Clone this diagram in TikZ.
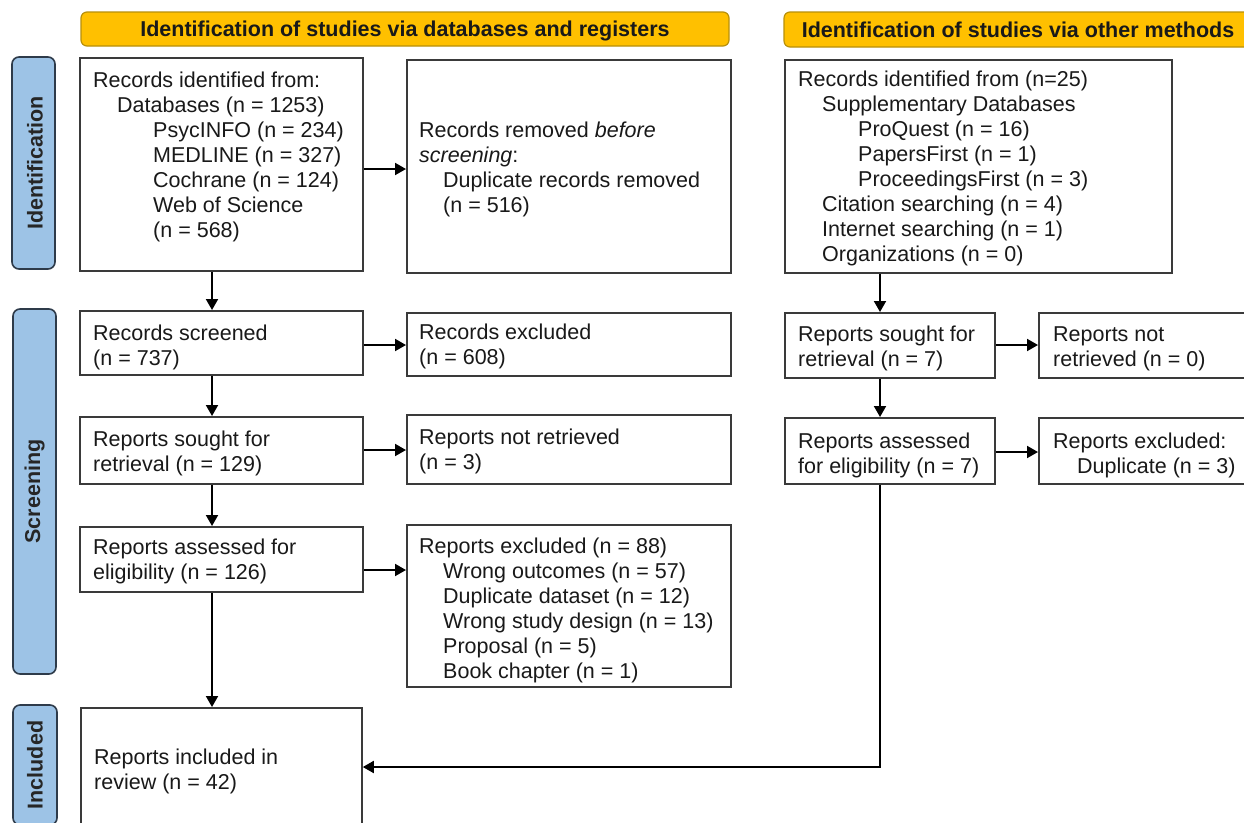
\documentclass[tikz,border=0pt]{standalone}
\usepackage{fontspec}
\setmainfont{Liberation Sans}
\usetikzlibrary{arrows.meta}

\definecolor{hdrfill}{HTML}{FFC000}
\definecolor{hdrline}{HTML}{B8900A}
\definecolor{sidefill}{HTML}{9DC3E6}
\definecolor{sideline}{HTML}{2E3B4A}
\definecolor{boxline}{HTML}{3A3A3A}

\newcommand{\bodyfont}{\fontsize{21.5}{25}\selectfont}
\newcommand{\ind}{\hspace*{24pt}}
\newcommand{\indd}{\hspace*{60pt}}
\newcommand{\lines}[1]{\begin{tabular}[t]{@{}l@{}}#1\end{tabular}}

\tikzset{
  box/.style={draw=boxline, line width=1.8pt, fill=white, inner sep=0pt, anchor=north west},
  txt/.style={font=\bodyfont, inner sep=0pt, anchor=base west, text=black!90},
  hdr/.style={draw=hdrline, line width=1.2pt, fill=hdrfill, rounded corners=6pt,
              font=\bodyfont\bfseries, text=black!90, inner sep=0pt, text depth=0pt},
  side/.style={draw=sideline, line width=1.6pt, fill=sidefill, rounded corners=7pt, inner sep=0pt},
  sidetxt/.style={font=\bodyfont\bfseries, text=black!85, rotate=90, inner sep=0pt},
  arr/.style={draw=black, line width=1.9pt, -{Triangle[length=11pt,width=12pt]}},
}

\begin{document}
\begin{tikzpicture}[x=1pt, y=-1pt]
  \useasboundingbox (0,0) rectangle (1244,822);
  \clip (0,0) rectangle (1244,822);
  \fill[white] (0,0) rectangle (1244,822);

  % column headers
  \node[hdr, minimum width=648pt, minimum height=34pt] (h1) at (405,29)
    {Identification of studies via databases and registers};
  \node[hdr, minimum width=468pt, minimum height=35pt] (h2) at (1018,29.5)
    {Identification of studies via other methods};

  % phase bars
  \node[side, minimum width=43pt, minimum height=212pt] (s1) at (33.5,163) {};
  \node[side, minimum width=43pt, minimum height=365pt] (s2) at (34.5,491.5) {};
  \node[side, minimum width=44pt, minimum height=120pt] (s3) at (35,765) {};
  \node[sidetxt] (s1t) at ([xshift=1.5pt]s1.center) {Identification};
  \node[sidetxt] (s2t) at (s2) {Screening};
  \node[sidetxt] (s3t) at (s3) {Included};

  % boxes: databases and registers
  \node[box, minimum width=283pt, minimum height=213pt] (b1) at (79,57) {};
  \node[box, minimum width=324pt, minimum height=213pt] (b2) at (406,59) {};
  \node[box, minimum width=283pt, minimum height=64pt] (scr) at (79,310) {};
  \node[box, minimum width=324pt, minimum height=63pt] (rex) at (406,312) {};
  \node[box, minimum width=283pt, minimum height=67pt] (sou) at (79,416) {};
  \node[box, minimum width=324pt, minimum height=69pt] (nrt) at (406,414) {};
  \node[box, minimum width=283pt, minimum height=65pt] (ass) at (79,526) {};
  \node[box, minimum width=324pt, minimum height=162pt] (exc) at (406,524) {};
  \node[box, minimum width=281pt, minimum height=140pt] (inc) at (80,707) {};

  % boxes: other methods
  \node[box, minimum width=387pt, minimum height=213pt] (b3) at (784,59) {};
  \node[box, minimum width=210pt, minimum height=65pt] (sou2) at (784,312) {};
  \node[box, minimum width=230pt, minimum height=65pt] (nrt2) at (1038,312) {};
  \node[box, minimum width=210pt, minimum height=66pt] (ass2) at (784,417) {};
  \node[box, minimum width=230pt, minimum height=66pt] (exc2) at (1038,417) {};

  % box texts
  \node[txt] (b1t) at (93,87) {\lines{Records identified from:\\ \ind Databases (n = 1253)\\
    \indd PsycINFO (n = 234)\\ \indd MEDLINE (n = 327)\\ \indd Cochrane (n = 124)\\
    \indd Web of Science\\ \indd (n = 568)}};
  \node[txt] (b2t) at (419,137) {\lines{Records removed \textit{before}\\ \textit{screening}:\\
    \ind Duplicate records removed\\ \ind (n = 516)}};
  \node[txt] (b3t) at (798,86) {\lines{Records identified from (n=25)\\ \ind Supplementary Databases\\
    \indd ProQuest (n = 16)\\ \indd PapersFirst (n = 1)\\ \indd ProceedingsFirst (n = 3)\\
    \ind Citation searching (n = 4)\\ \ind Internet searching (n = 1)\\ \ind Organizations (n = 0)}};
  \node[txt] (scrt) at (93,340) {\lines{Records screened\\(n = 737)}};
  \node[txt] (rext) at (419,339) {\lines{Records excluded\\(n = 608)}};
  \node[txt] (sout) at (93,446) {\lines{Reports sought for\\retrieval (n = 129)}};
  \node[txt] (nrtt) at (419,444) {\lines{Reports not retrieved\\(n = 3)}};
  \node[txt] (asst) at (93,554) {\lines{Reports assessed for\\eligibility (n = 126)}};
  \node[txt] (exct) at (419,553) {\lines{Reports excluded (n = 88)\\ \ind Wrong outcomes (n = 57)\\
    \ind Duplicate dataset (n = 12)\\ \ind Wrong study design (n = 13)\\
    \ind Proposal (n = 5)\\ \ind Book chapter (n = 1)}};
  \node[txt] (inct) at (94,764) {\lines{Reports included in\\review (n = 42)}};
  \node[txt] (sou2t) at (798,341) {\lines{Reports sought for\\retrieval (n = 7)}};
  \node[txt] (nrt2t) at (1053,341) {\lines{Reports not\\retrieved (n = 0)}};
  \node[txt] (ass2t) at (798,448) {\lines{Reports assessed\\for eligibility (n = 7)}};
  \node[txt] (exc2t) at (1053,448) {\lines{Reports excluded:\\ \ind Duplicate (n = 3)}};

  % guide coordinates for connector lanes
  \coordinate (lx) at (212,0);
  \coordinate (rx) at (880,0);
  \coordinate (y1) at (0,169);
  \coordinate (y2) at (0,345);
  \coordinate (y3) at (0,450);
  \coordinate (y4) at (0,570);
  \coordinate (y5) at (0,345);
  \coordinate (y6) at (0,452);
  \coordinate (yf) at (0,767);

  % left column flow
  \draw[arr] (b1.south -| lx) -- (scr.north -| lx);
  \draw[arr] (scr.south -| lx) -- (sou.north -| lx);
  \draw[arr] (sou.south -| lx) -- (ass.north -| lx);
  \draw[arr] (ass.south -| lx) -- (inc.north -| lx);
  \draw[arr] (b1.east |- y1) -- (b2.west |- y1);
  \draw[arr] (scr.east |- y2) -- (rex.west |- y2);
  \draw[arr] (sou.east |- y3) -- (nrt.west |- y3);
  \draw[arr] (ass.east |- y4) -- (exc.west |- y4);

  % right column flow
  \draw[arr] (b3.south -| rx) -- (sou2.north -| rx);
  \draw[arr] (sou2.south -| rx) -- (ass2.north -| rx);
  \draw[arr] (sou2.east |- y5) -- (nrt2.west |- y5);
  \draw[arr] (ass2.east |- y6) -- (exc2.west |- y6);
  \draw[arr] (ass2.south -| rx) -- (rx |- yf) -- (inc.east |- yf);
\end{tikzpicture}
\end{document}
